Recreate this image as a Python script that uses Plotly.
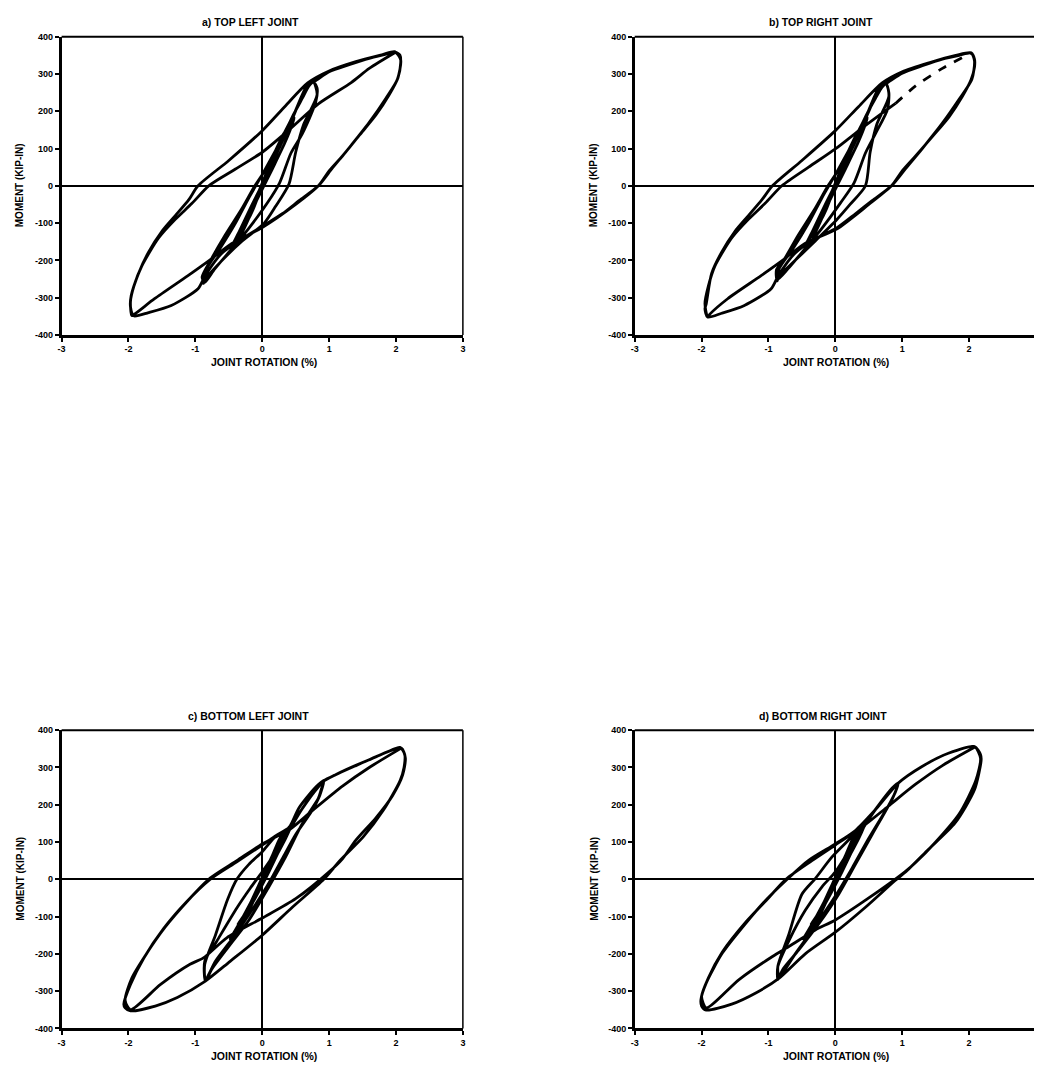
import plotly.graph_objects as go

W, H = 1037, 1075

# ---------------- data (joint rotation in %, moment in kip-in) ----------------
tl_rot = [0, 0.12, 0.22, 0.14, 0.0, -0.12, -0.22, -0.14, 0.0, 0.14, 0.27, 0.32, 0.2, 0.04, -0.12, -0.28, -0.34, -0.22, -0.06, 0.1, 0.3,
          0.38, 0.25, 0.05, -0.15, -0.3, -0.2, 0.0, 0.2, 0.3,
          0.42, 0.48, 0.35, 0.15, -0.1, -0.35, -0.45, -0.35, -0.15, 0.1, 0.3,
          0.45, 0.6, 0.7, 0.77, 0.82, 0.8, 0.6, 0.43, 0.26, 0.08, -0.21, -0.46, -0.71, -0.86, -0.9, -0.76, -0.56, -0.31, -0.11, 0.08, 0.28, 0.48, 0.66, 0.76,
          0.82, 0.62, 0.5, 0.4, 0.2, 0.03, -0.3, -0.6, -0.85, -0.88, -0.84, -0.62, -0.4, -0.2, 0.0, 0.2, 0.45, 0.68, 0.78,
          1.0, 1.3, 1.6, 1.85, 1.98, 2.06, 2.07,
          2.03, 1.9, 1.7, 1.45, 1.2, 1.0, 0.84, 0.55, 0.3, 0.0,
          -0.3, -0.6, -0.85, -0.96, -1.36, -1.7, -1.92,
          -1.97, -1.96, -1.85, -1.7, -1.5, -1.3, -1.1, -0.96, -0.5, 0.0, 0.35, 0.68, 1.0, 1.4, 1.8, 1.98,
          2.07, 2.02, 1.85, 1.6, 1.3, 1.05, 0.84, 0.5, 0.0, -0.46, -0.76, -1.11, -1.61, -1.9, -1.95,
          -1.97, -1.92, -1.8, -1.55, -1.3, -1.05, -0.8, -0.4, 0.0, 0.4, 0.84, 1.33, 1.6, 1.98]
tl_mom = [0, 55, 100, 70, 5, -50, -95, -65, 0, 60, 120, 140, 95, 25, -45, -115, -140, -95, -25, 40, 125,
          150, 100, 20, -60, -120, -85, -5, 80, 125,
          165, 182, 120, 45, -45, -130, -160, -125, -50, 40, 125,
          185, 235, 268, 278, 262, 225, 140, 88, 8, -45, -116, -170, -223, -259, -245, -196, -134, -63, 0, 52, 124, 195, 266, 280,
          245, 165, 90, 5, -55, -100, -148, -200, -250, -262, -225, -165, -100, -32, 30, 95, 180, 272, 280,
          306, 325, 342, 353, 359, 350, 330,
          290, 245, 190, 135, 80, 40, 0, -40, -75, -109,
          -142, -180, -240, -276, -321, -340, -349,
          -325, -295, -235, -178, -122, -80, -38, 0, 68, 148, 215, 276, 308, 333, 352, 360,
          338, 285, 235, 170, 102, 48, 0, -50, -112, -155, -196, -241, -303, -343, -348,
          -310, -270, -215, -140, -90, -47, 0, 45, 90, 150, 220, 277, 315, 357]

tr_rot = [0, 0.12, 0.22, 0.14, 0.0, -0.12, -0.22, -0.14, 0.0, 0.14, 0.27, 0.32, 0.2, 0.04, -0.12, -0.28, -0.34, -0.22, -0.06, 0.1, 0.3,
          0.38, 0.25, 0.05, -0.15, -0.3, -0.2, 0.0, 0.2, 0.3,
          0.42, 0.48, 0.35, 0.15, -0.1, -0.35, -0.45, -0.35, -0.15, 0.1, 0.3,
          0.45, 0.6, 0.7, 0.76, 0.8, 0.78, 0.6, 0.45, 0.28, 0.08, -0.21, -0.46, -0.71, -0.87, -0.88, -0.76, -0.56, -0.31, -0.11, 0.08, 0.28, 0.48, 0.66, 0.76,
          0.8, 0.62, 0.52, 0.45, 0.22, 0.02, -0.3, -0.6, -0.85, -0.87, -0.84, -0.62, -0.4, -0.2, 0.0, 0.2, 0.45, 0.68, 0.76,
          1.0, 1.3, 1.6, 1.85, 2.03, 2.08, 2.08,
          2.03, 1.9, 1.7, 1.45, 1.2, 1.0, 0.84, 0.55, 0.3, 0.02,
          -0.3, -0.6, -0.85, -0.96, -1.36, -1.7, -1.91,
          -1.95, -1.93, -1.85, -1.7, -1.5, -1.3, -1.1, -0.94, -0.5, 0.0, 0.35, 0.7, 1.0, 1.4, 1.8, 2.03,
          2.08, 2.04, 1.85, 1.6, 1.3, 1.05, 0.84, 0.5, 0.02, -0.46, -0.76, -1.11, -1.61, -1.88, -1.91,
          -1.95, -1.9, -1.8, -1.55, -1.3, -1.05, -0.8, -0.4, 0.0, 0.4, 0.9]
tr_mom = [0, 55, 100, 70, 5, -50, -95, -65, 0, 60, 120, 140, 95, 25, -45, -115, -140, -95, -25, 40, 125,
          150, 100, 20, -60, -120, -85, -5, 80, 125,
          165, 182, 120, 45, -45, -130, -160, -125, -50, 40, 125,
          185, 235, 265, 273, 250, 205, 140, 88, 8, -45, -116, -170, -223, -252, -225, -196, -134, -63, 0, 52, 124, 195, 266, 273,
          240, 165, 90, 0, -50, -91, -148, -200, -245, -255, -222, -165, -100, -32, 30, 95, 180, 268, 275,
          302, 322, 340, 350, 356, 340, 318,
          285, 240, 185, 132, 80, 40, 0, -40, -75, -113,
          -142, -180, -240, -276, -321, -342, -352,
          -330, -316, -235, -178, -122, -80, -38, 0, 68, 148, 213, 276, 306, 330, 350, 357,
          335, 285, 232, 168, 100, 46, 0, -50, -116, -155, -196, -241, -303, -345, -352,
          -316, -270, -215, -140, -90, -47, 0, 50, 99, 155, 221]

# broken (dashed-looking) reloading branch in the top-right joint
tr_dash_rot = [0.9, 1.2, 1.6, 2.03]
tr_dash_mom = [221, 268, 315, 356]

bl_rot = [0, 0.12, 0.25, 0.3, 0.18, 0.0, -0.15, -0.3, -0.36, -0.22, -0.05, 0.12, 0.3, 0.35, 0.2, 0.0, -0.18, -0.36, -0.25, -0.08, 0.1, 0.32,
          0.4, 0.25, 0.05, -0.15, -0.32, -0.2, 0.0, 0.2, 0.32,
          0.42, 0.3, 0.1, -0.15, -0.4, -0.48, -0.3, -0.05, 0.2, 0.45, 0.35, 0.1, -0.2, -0.42, -0.2, 0.05, 0.32,
          0.45, 0.6, 0.8, 0.92, 0.88, 0.84, 0.6, 0.35, 0.1, -0.2, -0.5, -0.75, -0.85, -0.86, -0.68, -0.38, -0.18, 0.0, 0.3, 0.6, 0.85, 0.92,
          0.86, 0.74, 0.5, 0.3, 0.1, -0.2, -0.45, -0.7, -0.85, -0.86, -0.7, -0.52, -0.38, -0.2, 0.0, 0.2, 0.42, 0.55, 0.84, 0.92,
          1.09, 1.4, 1.59, 1.85, 2.06, 2.13, 2.12, 2.06, 1.81, 1.51, 1.17, 0.92, 0.45, 0.0, -0.48, -0.85, -1.27, -1.6, -1.97,
          -2.05, -2.07, -1.97, -1.77, -1.47, -1.13, -0.78, -0.38, 0.0, 0.21, 0.4, 0.55, 0.84, 1.09, 1.59, 2.08,
          2.14, 2.1, 1.95, 1.7, 1.4, 1.2, 1.0, 0.5, 0.0, -0.53, -0.88, -1.08, -1.52, -1.97,
          -2.05, -1.95, -1.75, -1.45, -1.1, -0.78, -0.38, 0.0, 0.42, 0.74, 1.2, 1.6, 2.06]
bl_mom = [0, 50, 105, 120, 75, 5, -55, -110, -125, -80, -15, 45, 115, 125, 70, -5, -70, -120, -90, -30, 35, 110,
          140, 90, 15, -65, -125, -85, -5, 75, 115,
          140, 95, 20, -65, -140, -160, -105, -20, 70, 150, 110, 25, -80, -145, -75, 10, 110,
          150, 190, 240, 263, 240, 218, 150, 60, -20, -110, -180, -240, -273, -220, -166, -77, -24, 20, 100, 190, 250, 263,
          225, 183, 120, 55, -10, -95, -160, -220, -270, -228, -150, -55, 0, 40, 74, 115, 140, 192, 254, 265,
          280, 305, 320, 340, 354, 335, 300, 264, 185, 114, 52, 0, -75, -150, -220, -273, -317, -340, -353,
          -345, -335, -282, -211, -131, -60, 0, 47, 92, 118, 139, 192, 254, 280, 320, 352,
          325, 280, 225, 165, 105, 55, 20, -52, -104, -157, -211, -228, -282, -350,
          -325, -265, -205, -128, -55, 3, 50, 95, 135, 183, 250, 300, 350]

br_rot = [0, 0.12, 0.25, 0.3, 0.18, 0.0, -0.15, -0.3, -0.36, -0.22, -0.05, 0.12, 0.3, 0.35, 0.2, 0.0, -0.18, -0.36, -0.25, -0.08, 0.1, 0.32,
          0.4, 0.25, 0.05, -0.15, -0.32, -0.2, 0.0, 0.2, 0.32,
          0.42, 0.3, 0.1, -0.15, -0.4, -0.48, -0.3, -0.05, 0.2, 0.45, 0.35, 0.1, -0.2, -0.42, -0.2, 0.05, 0.32,
          0.45, 0.65, 0.85, 0.94, 0.9, 0.79, 0.55, 0.3, 0.05, -0.25, -0.55, -0.78, -0.86, -0.86, -0.69, -0.45, -0.2, 0.0, 0.3, 0.6, 0.94,
          0.85, 0.79, 0.5, 0.25, 0.0, -0.3, -0.6, -0.84, -0.86, -0.7, -0.5, -0.3, -0.05, 0.3, 0.6, 0.94,
          1.29, 1.69, 2.08, 2.17, 2.18, 2.08, 1.79, 1.39, 1.04, 0.89, 0.45, 0.0, -0.45, -0.84, -1.19, -1.55, -1.93,
          -2.0, -2.01, -1.93, -1.69, -1.34, -1.04, -0.74, -0.4, 0.0, 0.3, 0.6, 0.94, 1.29, 1.69, 2.08,
          2.17, 2.1, 1.85, 1.5, 1.2, 1.04, 0.5, 0.0, -0.3, -0.69, -0.94, -1.44, -1.93,
          -2.0, -1.9, -1.69, -1.34, -1.0, -0.74, -0.35, 0.0, 0.4, 0.79, 1.2, 1.6, 2.08]
br_mom = [0, 50, 105, 120, 75, 5, -55, -110, -125, -80, -15, 45, 115, 125, 70, -5, -70, -120, -90, -30, 35, 110,
          140, 90, 15, -65, -125, -85, -5, 75, 115,
          140, 95, 20, -65, -140, -160, -105, -20, 70, 150, 110, 25, -80, -145, -75, 10, 110,
          150, 200, 245, 258, 235, 196, 120, 40, -40, -120, -190, -240, -269, -234, -163, -83, -20, 20, 105, 187, 258,
          215, 196, 110, 30, -45, -125, -200, -262, -234, -150, -40, 2, 60, 124, 187, 258,
          302, 338, 356, 335, 320, 240, 151, 80, 18, -4, -75, -142, -200, -265, -305, -335, -351,
          -340, -323, -278, -198, -118, -56, -3, 51, 95, 131, 187, 258, 302, 338, 356,
          325, 265, 175, 100, 45, 20, -50, -109, -136, -180, -207, -269, -345,
          -315, -265, -195, -115, -50, 0, 50, 92, 140, 196, 255, 305, 354]

x_ticks = [-3, -2, -1, 0, 1, 2, 3]
x_tick_text = ["-3", "-2", "-1", "0", "1", "2", "3"]
y_ticks = [-400, -300, -200, -100, 0, 100, 200, 300, 400]
y_tick_text = ["-400", "-300", "-200", "-100", "0", "100", "200", "300", "400"]
panel_titles = ["a) TOP LEFT JOINT", "b) TOP RIGHT JOINT", "c) BOTTOM LEFT JOINT", "d) BOTTOM RIGHT JOINT"]
x_title = "JOINT ROTATION (%)"
y_title = "MOMENT (KIP-IN)"

# ---------------- figure ----------------
FONT = "Liberation Sans"
LW = 2.8
fig = go.Figure()
series = [(tl_rot, tl_mom, "x", "y"), (tr_rot, tr_mom, "x2", "y2"),
          (bl_rot, bl_mom, "x3", "y3"), (br_rot, br_mom, "x4", "y4")]
for rot, mom, xa, ya in series:
    fig.add_trace(go.Scatter(x=rot, y=mom, mode="lines", xaxis=xa, yaxis=ya,
                             line=dict(color="black", width=LW, shape="spline", smoothing=0.7),
                             showlegend=False, hoverinfo="skip"))
fig.add_trace(go.Scatter(x=tr_dash_rot, y=tr_dash_mom, mode="lines", xaxis="x2", yaxis="y2",
                         line=dict(color="black", width=LW, dash="dash", shape="spline", smoothing=0.7),
                         showlegend=False, hoverinfo="skip"))

def px(x):
    return x / W

def py(y):
    return 1 - y / H

left_dom = [px(58), px(462)]
right_dom = [px(635), 1.0]
top_dom = [py(333), py(32)]
bot_dom = [py(1033), py(732)]

tickfont = dict(family=FONT, size=9, color="black", weight="bold")

def xaxis(dom, rng, anchor):
    return dict(domain=dom, range=rng, anchor=anchor, tickvals=x_ticks, ticktext=x_tick_text,
                ticks="outside", ticklen=4, tickwidth=2, tickcolor="black", showline=True,
                linecolor="black", linewidth=2.5, zeroline=True, zerolinecolor="black", zerolinewidth=2,
                showgrid=False, tickfont=tickfont, fixedrange=True)

def yaxis(dom, anchor):
    return dict(domain=dom, range=[-400, 400], anchor=anchor, tickvals=y_ticks, ticktext=y_tick_text,
                ticks="outside", ticklen=4, tickwidth=2, tickcolor="black", showline=True,
                linecolor="black", linewidth=2.5, zeroline=True, zerolinecolor="black", zerolinewidth=2,
                showgrid=False, tickfont=tickfont, fixedrange=True)

fig.update_layout(
    width=W, height=H, margin=dict(l=0, r=0, t=0, b=0),
    paper_bgcolor="white", plot_bgcolor="white",
    xaxis=xaxis(left_dom, [-3, 3], "y"), yaxis=yaxis(top_dom, "x"),
    xaxis2=xaxis(right_dom, [-3, 2.97], "y2"), yaxis2=yaxis(top_dom, "x2"),
    xaxis3=xaxis(left_dom, [-3, 3], "y3"), yaxis3=yaxis(bot_dom, "x3"),
    xaxis4=xaxis(right_dom, [-3, 2.97], "y4"), yaxis4=yaxis(bot_dom, "x4"),
)

# top / right frame lines
shapes = []
for xr, yr, right in [("x", "y", True), ("x2", "y2", False), ("x3", "y3", True), ("x4", "y4", False)]:
    shapes.append(dict(type="line", xref=f"{xr} domain", yref=f"{yr} domain", x0=0, x1=1, y0=1, y1=1,
                       line=dict(color="black", width=2)))
    if right:
        shapes.append(dict(type="line", xref=f"{xr} domain", yref=f"{yr} domain", x0=1, x1=1, y0=0, y1=1,
                           line=dict(color="black", width=1.5)))
fig.update_layout(shapes=shapes)

ann = []
title_pos = [(248, 17), (823, 17), (246, 718), (825, 718)]
for t, (x, y) in zip(panel_titles, title_pos):
    ann.append(dict(text=t, x=px(x), y=py(y), xref="paper", yref="paper", showarrow=False,
                    xanchor="center", yanchor="middle",
                    font=dict(family=FONT, size=10.5, color="black", weight="bold")))
for x, y in [(262, 360), (838, 360), (262, 1061), (838, 1061)]:
    ann.append(dict(text=x_title, x=px(x), y=py(y), xref="paper", yref="paper", showarrow=False,
                    xanchor="center", yanchor="middle",
                    font=dict(family=FONT, size=10.5, color="black", weight="bold")))
for x, y in [(15, 182), (593, 182), (17, 882), (595, 882)]:
    ann.append(dict(text=y_title, x=px(x), y=py(y), xref="paper", yref="paper", showarrow=False,
                    xanchor="center", yanchor="middle", textangle=-90,
                    font=dict(family=FONT, size=10, color="black", weight="bold")))
fig.update_layout(annotations=ann)

fig.write_html("out.html", config={"displayModeBar": False})
